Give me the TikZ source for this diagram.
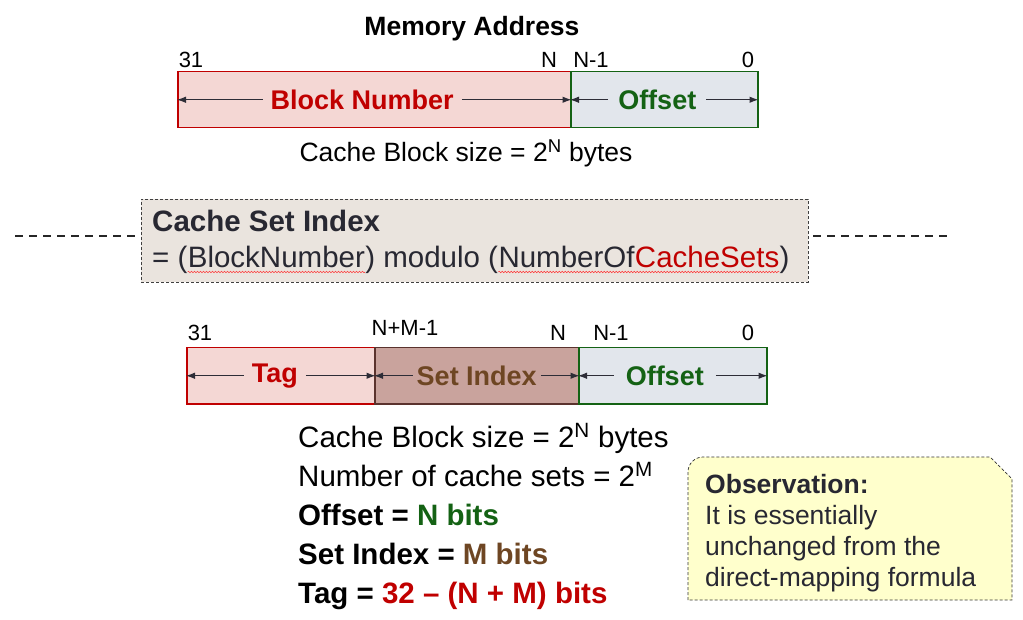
\documentclass[tikz,border=0pt]{standalone}
\usepackage{fontspec}
\setmainfont{Liberation Sans}
\usetikzlibrary{arrows.meta,positioning,decorations.pathmorphing}

\definecolor{blkred}{RGB}{192,0,0}
\definecolor{blkfill}{RGB}{244,215,212}
\definecolor{offgreen}{RGB}{20,98,20}
\definecolor{offfill}{RGB}{226,230,236}
\definecolor{idxbrown}{RGB}{110,70,35}
\definecolor{idxedge}{RGB}{90,50,45}
\definecolor{idxfill}{RGB}{201,163,157}
\definecolor{setfill}{RGB}{234,228,222}
\definecolor{notefill}{RGB}{255,255,204}
\definecolor{inkdark}{RGB}{40,40,50}
\definecolor{arrowgray}{RGB}{45,45,55}

\tikzset{
  field/.style={draw, line width=1.5pt, minimum height=56pt, inner sep=0pt, anchor=north west},
  fieldtext/.style={font=\fontsize{27}{30}\selectfont\bfseries, inner xsep=8pt, inner ysep=0pt},
  bitnum/.style={font=\fontsize{22}{24}\selectfont, anchor=base, inner sep=0pt},
  span/.style={-{Latex[length=9pt,width=6.5pt]}, line width=1pt, draw=arrowgray},
  listline/.style={font=\fontsize{29.5}{32}\selectfont, anchor=base west, inner sep=0pt},
  formula/.style={font=\fontsize{29.5}{32}\selectfont, text=inkdark, anchor=base west, inner sep=0pt},
  squiggle/.style={draw=red!80, line width=0.5pt, decorate,
    decoration={snake, amplitude=0.8pt, segment length=3pt}},
}

\begin{document}
\begin{tikzpicture}[x=1pt,y=-1pt]
\useasboundingbox (0,0) rectangle (1023,620);

% memory address, top
\node[font=\fontsize{26.5}{28}\selectfont\bfseries, anchor=base, inner sep=0pt] (memtitle) at (472,36) {Memory Address};
\node[field, draw=blkred, fill=blkfill, minimum width=393pt] (blk) at (177,71) {};
\node[field, draw=offgreen, fill=offfill, minimum width=187pt] (off) at (570,71) {};
\node[bitnum] (b31) at (191,68) {31};
\node[bitnum] (bN) at (549,68) {N};
\node[bitnum] (bN1) at (591,68) {N-1};
\node[bitnum] (b0) at (748,68) {0};
\node[fieldtext, text=blkred] (blklbl) at ([xshift=-12pt]blk.center) {Block Number};
\node[fieldtext, text=offgreen, inner xsep=10pt] (offlbl) at ([xshift=-7pt]off.center) {Offset};
\draw[span] (blklbl.west) -- (blk.west);
\draw[span] (blklbl.east) -- (blk.east);
\draw[span] (offlbl.west) -- (off.west);
\draw[span] (offlbl.east) -- (off.east);
\node[font=\fontsize{26.5}{28}\selectfont, anchor=base, inner sep=0pt] (blksize) at (466,162) {Cache Block size = 2\textsuperscript{N} bytes};

% divider and set index formula
\coordinate (divl) at (15,236);
\coordinate (divr) at (948,236);
\draw[line width=1.2pt, dash pattern=on 8pt off 6pt, draw=black!85] (divl) -- (divr);
\node[draw=black!75, dash pattern=on 3pt off 2pt, line width=0.7pt, fill=setfill,
  minimum width=667pt, minimum height=83pt, anchor=north west, inner sep=0pt] (setbox) at (141,199) {};
\node[formula, font=\fontsize{29.5}{32}\selectfont\bfseries] (settitle) at (152,232) {Cache Set Index};
\node[formula] (fa) at (152,268) {= (};
\node[formula] (fb) at (fa.base east) {BlockNumber};
\node[formula] (fc) at (fb.base east) {) modulo (};
\node[formula] (fd) at (fc.base east) {NumberOf};
\node[formula, text=blkred] (fe) at (fd.base east) {CacheSets};
\node[formula] (ff) at (fe.base east) {)};
\draw[squiggle] ([yshift=-4pt]fb.base west) -- ([yshift=-4pt]fb.base east);
\draw[squiggle] ([yshift=-4pt]fd.base west) -- ([yshift=-4pt]fe.base east);

% tag / set index / offset
\node[field, draw=blkred, fill=blkfill, minimum width=188pt] (tag) at (186,347) {};
\node[field, draw=idxedge, fill=idxfill, minimum width=204pt] (idx) at (374,347) {};
\node[field, draw=offgreen, fill=offfill, minimum width=188pt] (off2) at (578,347) {};
\node[bitnum] (c31) at (200,341) {31};
\node[bitnum] (cNM) at (405,336) {N+M-1};
\node[bitnum] (cN) at (558,341) {N};
\node[bitnum] (cN1) at (611,341) {N-1};
\node[bitnum] (c0) at (748,341) {0};
\node[fieldtext, text=blkred] (taglbl) at ([xshift=-6pt]tag.center) {Tag};
\node[fieldtext, text=idxbrown, inner xsep=4pt] (idxlbl) at (idx.center) {Set Index};
\node[fieldtext, text=offgreen, inner xsep=12pt] (off2lbl) at ([xshift=-8pt]off2.center) {Offset};
\draw[span] (taglbl.west) -- (tag.west);
\draw[span] (taglbl.east) -- (tag.east);
\draw[span] (idxlbl.west) -- (idx.west);
\draw[span] (idxlbl.east) -- (idx.east);
\draw[span] (off2lbl.west) -- (off2.west);
\draw[span] (off2lbl.east) -- (off2.east);

% sizes
\node[listline] (l1) at (298,447) {Cache Block size = 2\textsuperscript{N} bytes};
\node[listline] (l2) at (298,486) {Number of cache sets = 2\textsuperscript{M}};
\node[listline, font=\fontsize{29.5}{32}\selectfont\bfseries] (l3) at (298,525) {Offset = \textcolor{offgreen}{N bits}};
\node[listline, font=\fontsize{29.5}{32}\selectfont\bfseries] (l4) at (298,564) {Set Index = \textcolor{idxbrown}{M bits}};
\node[listline, font=\fontsize{29.5}{32}\selectfont\bfseries] (l5) at (298,603) {Tag = \textcolor{blkred}{32 – (N + M) bits}};

% observation note
\path[draw=black!80, dash pattern=on 3pt off 2pt, line width=0.7pt, fill=notefill]
  (688,600) -- (688,472) arc[start angle=180, end angle=90, radius=15pt]
  -- (990,457) -- (1012,479) -- (1012,600) -- cycle;
\node[font=\fontsize{26.5}{31}\selectfont, text=inkdark, align=left, anchor=base west, inner sep=0pt] (note) at (705,586)
  {\textbf{Observation:}\\It is essentially\\unchanged from the\\direct-mapping formula};
\end{tikzpicture}
\end{document}
